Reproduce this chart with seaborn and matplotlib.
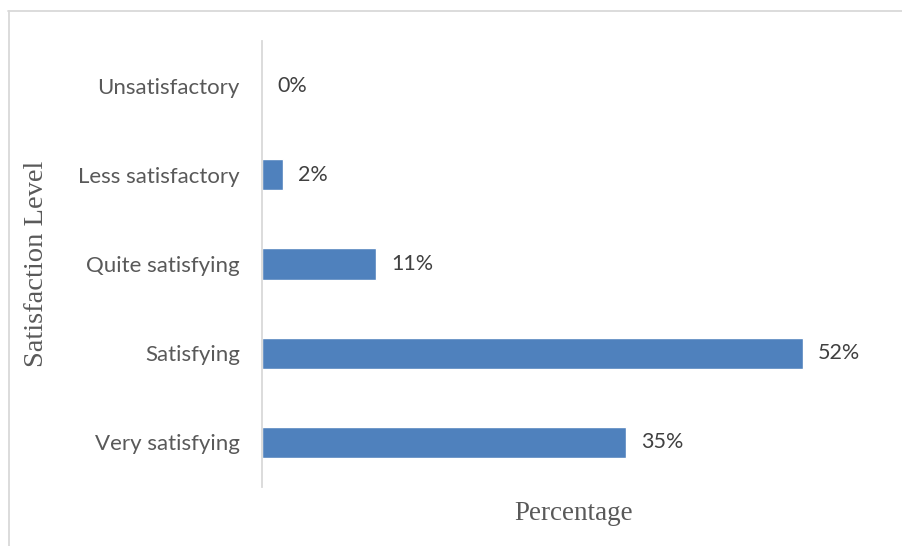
import matplotlib
matplotlib.use("Agg")
import matplotlib.pyplot as plt
from matplotlib.lines import Line2D
import seaborn as sns
import pandas as pd

categories = ["Unsatisfactory", "Less satisfactory", "Quite satisfying", "Satisfying", "Very satisfying"]
values = [0, 2, 11, 52, 35]
labels = ["0%", "2%", "11%", "52%", "35%"]

df = pd.DataFrame({"level": categories, "pct": values})

sns.set_theme(style="white")
plt.rcParams["font.family"] = ["Lato", "DejaVu Sans"]

W, H = 903, 546
fig = plt.figure(figsize=(W / 100, H / 100), dpi=100)
ax = fig.add_axes([262 / W, 1 - 487 / H, (886 - 262) / W, (487 - 41) / H])

sns.barplot(data=df, y="level", x="pct", orient="h", color="#4f81bd",
            saturation=1, width=0.35, ax=ax, order=categories)
ax.set_xlim(0, 60)
ax.set_ylim(4.5, -0.5)

for i, (v, lab) in enumerate(zip(values, labels)):
    ax.text(v + 1.45, i, lab, va="center", ha="left", fontsize=15.5, color="#404040")

for s in ["top", "right", "bottom"]:
    ax.spines[s].set_visible(False)
ax.spines["left"].set_color("#d9d9d9")
ax.spines["left"].set_linewidth(1.3)
ax.set_xticks([])
ax.tick_params(axis="y", length=0, pad=16, labelsize=16, labelcolor="#595959")

ax.set_xlabel("Percentage", family="Liberation Serif", fontsize=19.5, color="#595959", labelpad=10)
ax.set_ylabel("Satisfaction Level", family="Liberation Serif", fontsize=20.5, color="#595959", labelpad=0)
ax.yaxis.set_label_coords(-(262 - 49) / (886 - 262), 0.5)

fig.add_artist(Line2D([8 / W, 1], [1 - 11 / H, 1 - 11 / H], color="#d9d9d9", lw=1.3, transform=fig.transFigure))
fig.add_artist(Line2D([8.5 / W, 8.5 / W], [0, 1 - 11 / H], color="#d9d9d9", lw=1.3, transform=fig.transFigure))

fig.savefig("out.png", dpi=100)
